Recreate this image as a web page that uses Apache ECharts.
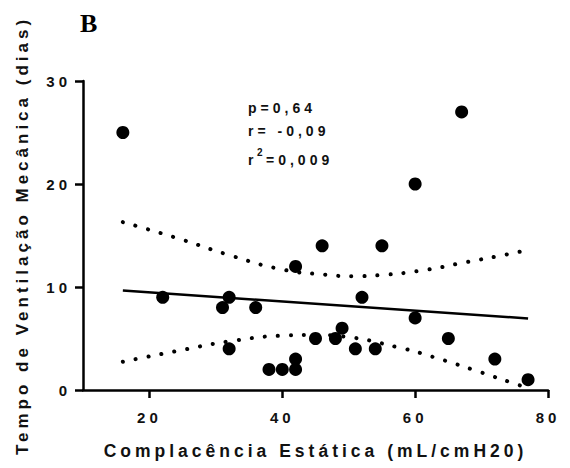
<!DOCTYPE html>
<html>
<head>
<meta charset="utf-8">
<script src="https://cdn.jsdelivr.net/npm/echarts@6/dist/echarts.min.js"></script>
<style>
  html, body { margin: 0; padding: 0; background: #fff; }
  #main { width: 570px; height: 468px; }
  /* the original figure uses widely spaced lettering */
  #main text { letter-spacing: 4px; }
</style>
</head>
<body>
<div id="main"></div>
<script>
// scatter points: complacência (x) vs dias de ventilação (y)
const complacencia = [16, 67, 60, 46, 55, 42, 22, 32, 31, 36, 52, 60, 49, 45, 48, 65, 32, 51, 54, 42, 38, 40, 42, 72, 77];
const diasVM = [25, 27, 20, 14, 14, 12, 9, 9, 8, 8, 9, 7, 6, 5, 5, 5, 4, 4, 4, 3, 2, 2, 2, 3, 1];

// regression line endpoints
const fitX = [16, 77];
const fitY = [9.65, 6.95];

// 95% confidence band
const bandUpperX = [16, 24.4, 32, 40, 46.4, 50.6, 54.7, 61, 67.2, 73.3, 77];
const bandUpperY = [16.3, 14.7, 13.1, 11.7, 11.2, 11.05, 11.15, 11.6, 12.35, 13.1, 13.6];
const bandLowerX = [16, 24.3, 32.3, 40.8, 44.9, 49.1, 57.4, 63.5, 69.5, 75.5, 77];
const bandLowerY = [2.75, 3.8, 4.75, 5.3, 5.35, 5.2, 4.15, 3.05, 1.8, 0.5, 0.2];

const xTicks = [20, 40, 60, 80];
const yTicks = [0, 10, 20, 30];

const FONT = 'Liberation Sans, Arial, sans-serif';

function pairs(xs, ys) {
  return xs.map((x, i) => [x, ys[i]]);
}

const chart = echarts.init(document.getElementById('main'), null, { renderer: 'svg' });

const axisCommon = {
  axisLine: { show: true, lineStyle: { color: '#000', width: 2.5 } },
  axisTick: { show: true, length: 8, lineStyle: { color: '#000', width: 2.5 } },
  splitLine: { show: false },
  nameTextStyle: { color: '#111', fontFamily: FONT, fontWeight: 'bold', fontSize: 17 }
};

const bandStyle = { color: '#000', width: 4, type: [0.1, 13], cap: 'round' };

chart.setOption({
  animation: false,
  backgroundColor: '#fff',
  grid: { left: 83, right: 22, top: 81, bottom: 78 },
  xAxis: Object.assign({}, axisCommon, {
    type: 'value',
    min: 10,
    max: 80,
    name: 'Complacência Estática (mL/cmH20)',
    nameLocation: 'middle',
    nameGap: 52,
    nameTextStyle: Object.assign({}, axisCommon.nameTextStyle, { fontSize: 17.5 }),
    axisTick: Object.assign({}, axisCommon.axisTick, { customValues: xTicks }),
    axisLabel: {
      customValues: xTicks,
      margin: 20,
      color: '#111',
      fontFamily: FONT,
      fontWeight: 'bold',
      fontSize: 15
    }
  }),
  yAxis: Object.assign({}, axisCommon, {
    type: 'value',
    min: 0,
    max: 30,
    name: 'Tempo de Ventilação Mecânica (dias)',
    nameLocation: 'middle',
    nameGap: 52,
    axisTick: Object.assign({}, axisCommon.axisTick, { customValues: yTicks }),
    axisLabel: {
      customValues: yTicks,
      margin: 12,
      color: '#111',
      fontFamily: FONT,
      fontWeight: 'bold',
      fontSize: 15
    }
  }),
  graphic: [
    {
      type: 'text', left: 80, top: 10,
      style: { text: 'B', fill: '#000', font: 'bold 26px "Liberation Serif", "Times New Roman", serif' }
    },
    {
      type: 'text', x: 248, y: 108,
      style: { text: 'p=0,64', fill: '#111', font: 'bold 14px ' + FONT, verticalAlign: 'middle' }
    },
    {
      type: 'text', x: 248, y: 131,
      style: { text: 'r= -0,09', fill: '#111', font: 'bold 14px ' + FONT, verticalAlign: 'middle' }
    },
    {
      type: 'text', x: 248, y: 160,
      style: { text: 'r', fill: '#111', font: 'bold 14px ' + FONT, verticalAlign: 'middle' }
    },
    {
      type: 'text', x: 257, y: 152,
      style: { text: '2', fill: '#111', font: 'bold 10px ' + FONT, verticalAlign: 'middle' }
    },
    {
      type: 'text', x: 266, y: 160,
      style: { text: '=0,009', fill: '#111', font: 'bold 14px ' + FONT, verticalAlign: 'middle' }
    }
  ],
  series: [
    {
      type: 'line',
      data: pairs(bandUpperX, bandUpperY),
      smooth: true,
      showSymbol: false,
      lineStyle: bandStyle,
      z: 1
    },
    {
      type: 'line',
      data: pairs(bandLowerX, bandLowerY),
      smooth: true,
      showSymbol: false,
      lineStyle: bandStyle,
      z: 1
    },
    {
      type: 'line',
      data: pairs(fitX, fitY),
      showSymbol: false,
      lineStyle: { color: '#000', width: 2.5 },
      z: 2
    },
    {
      type: 'scatter',
      data: pairs(complacencia, diasVM),
      symbolSize: 13,
      itemStyle: { color: '#000', opacity: 1 },
      z: 3
    }
  ]
});
</script>
</body>
</html>
